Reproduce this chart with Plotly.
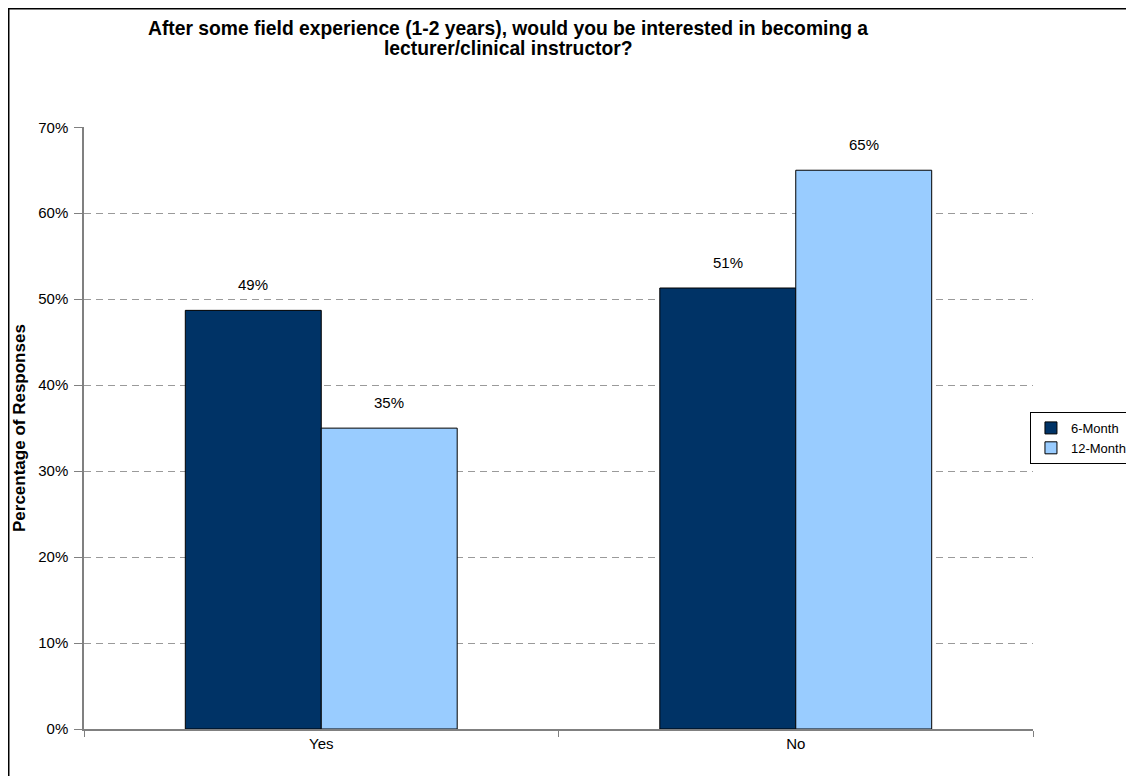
import plotly.graph_objects as go

categories = ["Yes", "No"]
series_names = ["6-Month", "12-Month"]
six_month = [0.487, 0.513]
twelve_month = [0.35, 0.65]
label_six = ["49%", "51%"]
label_twelve = ["35%", "65%"]
y_ticks = [0, 0.1, 0.2, 0.3, 0.4, 0.5, 0.6, 0.7]
y_tick_text = ["0%", "10%", "20%", "30%", "40%", "50%", "60%", "70%"]
title_lines = ["After some field experience (1-2 years), would you be interested in becoming a",
               "lecturer/clinical instructor?"]

colors = ["#003366", "#99CCFF"]
font_family = "Liberation Sans, Arial, sans-serif"

fig = go.Figure()
for name, vals, col in zip(series_names, [six_month, twelve_month], colors):
    fig.add_trace(go.Bar(
        x=categories, y=vals, name=name,
        marker=dict(color=col, line=dict(color="#000000", width=1)),
    ))

# value labels above bars
for vals, labels, shift in [(six_month, label_six, -68), (twelve_month, label_twelve, 68)]:
    for c, v, t in zip(categories, vals, labels):
        fig.add_annotation(x=c, y=v, text=t, showarrow=False, xshift=shift,
                           yanchor="bottom", yshift=15,
                           font=dict(family=font_family, size=15, color="#000000"))

# title (two lines, placed separately for tight line spacing)
for line, ypos in zip(title_lines, [1.163, 1.131]):
    fig.add_annotation(xref="paper", yref="paper", x=0.447, y=ypos, yanchor="middle",
                       text="<b>" + line + "</b>", showarrow=False,
                       font=dict(family=font_family, size=19.3, color="#000000"))

# y-axis title
fig.add_annotation(xref="paper", yref="paper", x=-0.0685, y=0.5, xanchor="center", yanchor="middle",
                   text="<b>Percentage of Responses</b>", textangle=-90, showarrow=False,
                   font=dict(family=font_family, size=17, color="#000000"))

# outer chart frame
fig.add_shape(type="rect", xref="paper", yref="paper",
              x0=-0.0793, x1=1.3, y0=-0.3, y1=1.1964,
              line=dict(color="#000000", width=1.5), fillcolor="rgba(0,0,0,0)", layer="below")

fig.update_layout(
    width=1126, height=768,
    margin=dict(l=76, r=101, t=119, b=47, autoexpand=False),
    plot_bgcolor="#FFFFFF", paper_bgcolor="#FFFFFF",
    barmode="group", bargap=0.427, bargroupgap=0,
    font=dict(family=font_family, size=15, color="#000000"),
    showlegend=True,
    legend=dict(xref="container", yref="container", x=0.9076, y=0.474,
                xanchor="left", yanchor="top",
                bordercolor="#000000", borderwidth=1, bgcolor="#FFFFFF",
                font=dict(family=font_family, size=13, color="#000000"),
                itemwidth=30, tracegroupgap=0),
    xaxis=dict(showline=True, linecolor="#808080", linewidth=1.5,
               ticks="outside", ticklen=6, tickcolor="#808080", tickson="boundaries",
               showgrid=False, tickfont=dict(size=15), fixedrange=True),
    yaxis=dict(range=[0, 0.7003], tickvals=y_ticks, ticktext=y_tick_text,
               showline=True, linecolor="#808080", linewidth=1.5,
               ticks="outside", ticklen=8, tickcolor="#808080",
               showgrid=True, gridcolor="#9A9A9A", griddash="7px,5px", gridwidth=1,
               zeroline=False, tickfont=dict(size=15), ticklabelstandoff=3),
)

fig.write_html("out.html")
